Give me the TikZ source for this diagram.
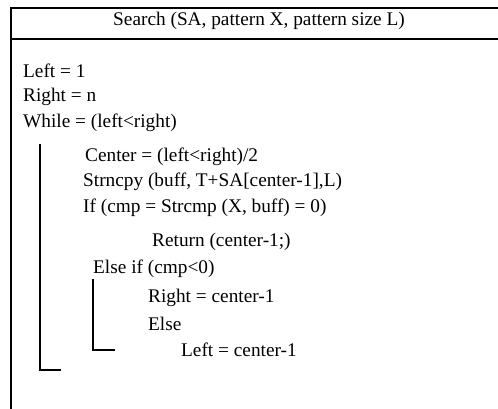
\documentclass[tikz,border=0pt]{standalone}
\usepackage{fontspec}
\setmainfont{Liberation Serif}
\tikzset{
  frame/.style={line width=2pt, line cap=rect},
  bracket/.style={line width=1.6pt},
  code/.style={anchor=base west, inner sep=0pt, font=\fontsize{19.3}{23}\selectfont},
  title/.style={anchor=base, inner sep=0pt, font=\fontsize{19.3}{23}\selectfont}
}
\begin{document}
\begin{tikzpicture}[x=1pt,y=-1pt]
\useasboundingbox (0,0) rectangle (498,409);
% frame
\draw[frame] (498,8.5) -- (11,8.5) -- (11,409);
\draw[frame] (11,39.5) -- (498,39.5);
% header
\node[title] (hdr) at (259,25.5) {Search (SA, pattern X, pattern size L)};
% code lines
\node[code] (l1) at (23,77.5) {Left = 1};
\node[code] (l2) at (23,102) {Right = n};
\node[code] (l3) at (23,127.5) {While = (left<right)};
\node[code] (l4) at (85,161.5) {Center = (left<right)/2};
\node[code] (l5) at (83,186) {Strncpy (buff, T+SA[center-1],L)};
\node[code] (l6) at (83,212) {If (cmp = Strcmp (X, buff) = 0)};
\node[code] (l7) at (152,246) {Return (center-1;)};
\node[code] (l8) at (93,273) {Else if (cmp<0)};
\node[code] (l9) at (148,302) {Right = center-1};
\node[code] (l10) at (148,330) {Else};
\node[code] (l11) at (181,356.5) {Left = center-1};
% brackets
\coordinate (w1) at (40,144);
\coordinate (w2) at (40,370);
\coordinate (w3) at (61,370);
\draw[bracket] (w1) -- (w2) -- (w3);
\coordinate (e1) at (93,279);
\coordinate (e2) at (93,350);
\coordinate (e3) at (115,350);
\draw[bracket] (e1) -- (e2) -- (e3);
\end{tikzpicture}
\end{document}
